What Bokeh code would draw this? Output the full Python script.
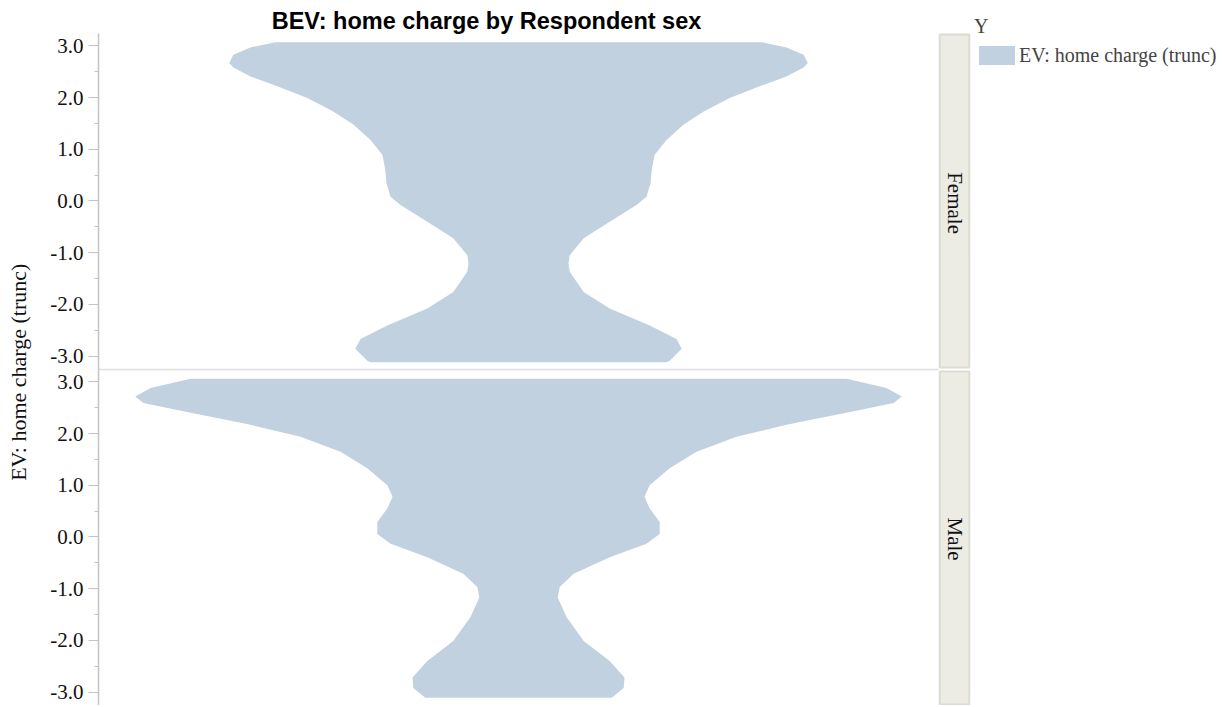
import numpy as np
from bokeh.plotting import figure
from bokeh.models import (CustomJSTickFormatter, FixedTicker, Legend, LegendItem,
                          Label, ColumnDataSource, Range1d)
from bokeh.core.properties import value
from bokeh.embed import file_html
from bokeh.resources import INLINE

# ---------------- data ----------------
title_text = "BEV: home charge by Respondent sex"
y_label = "EV: home charge (trunc)"
panels = ["Female", "Male"]
tick_values = [-3, -2, -1, 0, 1, 2, 3]

# violin outlines: value on y axis and half-width (density, arbitrary units)
female_y = [3.07, 2.97, 2.83, 2.67, 2.58, 2.41, 2.22, 1.99, 1.73, 1.48, 1.18, 0.89,
            0.60, 0.34, 0.08, -0.08, -0.40, -0.72, -1.05, -1.21, -1.37, -1.76, -2.08,
            -2.41, -2.67, -2.86, -3.09, -3.12]
female_w = [0.608, 0.670, 0.713, 0.723, 0.713, 0.670, 0.603, 0.528, 0.463, 0.413,
            0.370, 0.340, 0.333, 0.330, 0.320, 0.295, 0.228, 0.163, 0.128, 0.125,
            0.128, 0.163, 0.228, 0.328, 0.395, 0.408, 0.378, 0.370]

male_y = [3.06, 2.88, 2.72, 2.59, 2.43, 2.17, 1.94, 1.65, 1.33, 1.00, 0.78, 0.55,
          0.29, 0.06, -0.13, -0.39, -0.71, -0.97, -1.17, -1.55, -2.01, -2.40, -2.72,
          -2.92, -3.11]
male_w = [0.820, 0.920, 0.958, 0.938, 0.838, 0.670, 0.545, 0.445, 0.378, 0.328,
          0.315, 0.328, 0.353, 0.353, 0.320, 0.228, 0.138, 0.103, 0.098, 0.120,
          0.163, 0.228, 0.265, 0.263, 0.233]

# ---------------- layout constants ----------------
W, H = 1222, 705
BORDER_L = 98
TOP_GAP = 33            # px between canvas top and first panel
FRAME_W = W - BORDER_L
FRAME_H = H
LO, HI = -3.26, 3.24
SPAN = HI - LO          # 6.5 per panel
PPU = (H - TOP_GAP) / (2 * SPAN)
PPX = 400.0
X0 = -(518 - BORDER_L) / PPX
X1 = X0 + FRAME_W / PPX
STRIP_L, STRIP_R = 1.05, 1.13

VIOLIN = "#C1D1E0"
SERIF = "Liberation Serif"

p = figure(width=W, height=H, output_backend="svg", toolbar_location=None,
           x_range=Range1d(X0, X1), y_range=Range1d(LO, HI + SPAN + TOP_GAP / PPU),
           x_axis_type=None, min_border_left=BORDER_L, min_border_right=0,
           min_border_top=0, min_border_bottom=0)
p.outline_line_color = None
p.grid.visible = False
p.background_fill_color = "white"

offsets = {"Female": SPAN, "Male": 0.0}
data = {"Female": (female_y, female_w), "Male": (male_y, male_w)}
renderers = []
for name in panels:
    ys, ws = data[name]
    ys = np.array(ys) + offsets[name]
    ws = np.array(ws)
    xs = np.concatenate([-ws, ws[::-1]])
    yy = np.concatenate([ys, ys[::-1]])
    r = p.patch(xs, yy, fill_color=VIOLIN, line_color=None)
    renderers.append(r)

# panel separator
p.segment(x0=[X0], y0=[HI], x1=[STRIP_L], y1=[HI], line_color="#DEDEDE", line_width=1.5)

# facet strips
strip_src = ColumnDataSource(dict(
    left=[STRIP_L + 0.003] * 2, right=[STRIP_R - 0.003] * 2,
    bottom=[HI + 0.04, LO + 0.02], top=[HI + SPAN - 0.02, HI - 0.04],
    cx=[(STRIP_L + STRIP_R) / 2] * 2, cy=[HI + SPAN / 2 - 0.03, LO + SPAN / 2 - 0.03],
    label=panels))
p.quad(left="left", right="right", bottom="bottom", top="top", source=strip_src,
       fill_color="#ECEBE4", line_color="#DDDCD3", line_width=2)
p.text(x="cx", y="cy", text="label", source=strip_src, angle=-np.pi / 2,
       text_align="center", text_baseline="middle", text_font=value(SERIF),
       text_font_size="21px", text_color="#111111")

# y axis
majors = [v for v in tick_values] + [v + SPAN for v in tick_values]
minors = [v + 0.5 for v in tick_values[:-1]] + [v + 0.5 + SPAN for v in tick_values[:-1]]
ax = p.yaxis[0]
ax.bounds = (LO, HI + SPAN)
ax.ticker = FixedTicker(ticks=majors, minor_ticks=minors)
ax.formatter = CustomJSTickFormatter(
    args=dict(split=HI, span=SPAN),
    code="const v = tick > split ? tick - span : tick; return v.toFixed(1);")
ax.axis_line_color = "#C4C4C4"
ax.axis_line_width = 1.5
ax.major_tick_line_color = "#C4C4C4"
ax.minor_tick_line_color = "#C4C4C4"
ax.major_tick_out = 10
ax.major_tick_in = 0
ax.minor_tick_out = 4
ax.minor_tick_in = 0
ax.major_label_standoff = 5
ax.major_label_text_font = SERIF
ax.major_label_text_font_size = "21px"
ax.major_label_text_color = "#111111"
# non-breaking padding shifts the centred label down to the middle of the panels
ax.axis_label = y_label + "\u00a0" * 7
ax.axis_label_text_font = SERIF
ax.axis_label_text_font_size = "22px"
ax.axis_label_text_font_style = "normal"
ax.axis_label_text_color = "#111111"
ax.axis_label_standoff = 16

# title
p.add_layout(Label(x=486 - BORDER_L, y=FRAME_H - 20, x_units="screen", y_units="screen",
                   text=title_text, text_font="Liberation Sans", text_font_style="bold",
                   text_font_size="23.5px", text_align="center", text_baseline="middle",
                   text_color="#000000"))

# legend
legend = Legend(items=[LegendItem(label=y_label, renderers=[renderers[0]])],
                title="Y", location=(974 - BORDER_L, FRAME_H - 67),
                glyph_width=45, glyph_height=24, label_standoff=0,
                padding=0, margin=0, spacing=0, border_line_color=None,
                background_fill_alpha=0,
                label_text_font=SERIF, label_text_font_size="20px",
                title_text_font=SERIF, title_text_font_size="20px",
                title_text_font_style="normal", title_standoff=5)
p.add_layout(legend, "center")

open("out.html", "w").write(file_html(p, INLINE))
